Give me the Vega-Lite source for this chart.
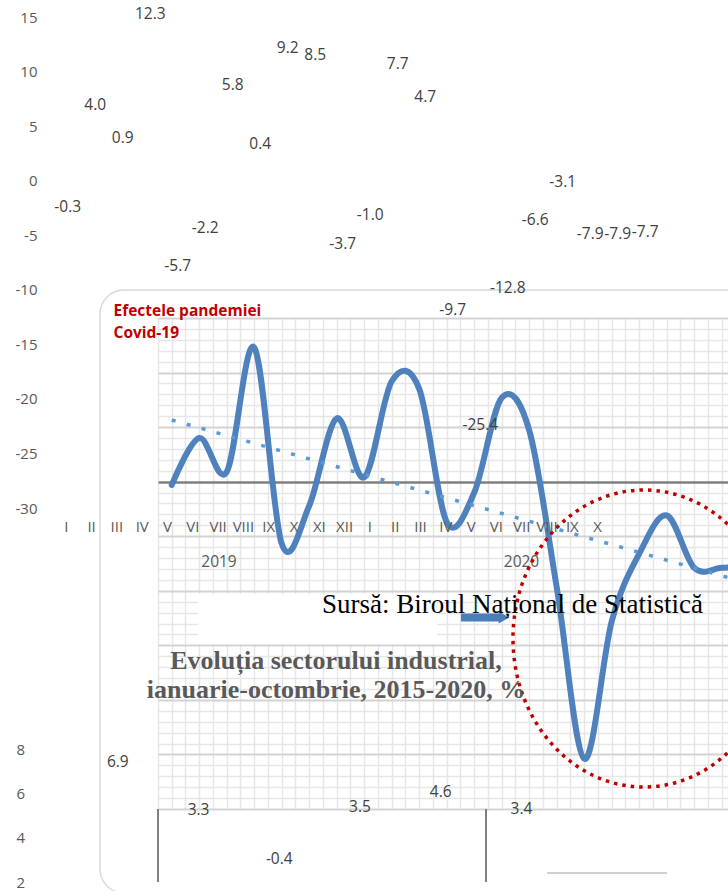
{
  "$schema": "https://vega.github.io/schema/vega-lite/v6.json",
  "width": 570,
  "height": 491,
  "autosize": {"type": "none"},
  "padding": {"left": 158, "top": 318, "right": 0, "bottom": 82},
  "background": "white",
  "config": {
    "view": {"stroke": null},
    "locale": {"number": {"decimal": ".", "thousands": ",", "grouping": [3], "currency": ["$", ""], "minus": "-"}}
  },
  "datasets": {
    "ipi": [
      {"i": 0, "year": "2019", "month": "I", "value": -0.3, "side": "below"},
      {"i": 1, "year": "2019", "month": "II", "value": 4.0, "side": "above"},
      {"i": 2, "year": "2019", "month": "III", "value": 0.9, "side": "above"},
      {"i": 3, "year": "2019", "month": "IV", "value": 12.3, "side": "above"},
      {"i": 4, "year": "2019", "month": "V", "value": -5.7, "side": "below"},
      {"i": 5, "year": "2019", "month": "VI", "value": -2.2, "side": "below"},
      {"i": 6, "year": "2019", "month": "VII", "value": 5.8, "side": "above"},
      {"i": 7, "year": "2019", "month": "VIII", "value": 0.4, "side": "above"},
      {"i": 8, "year": "2019", "month": "IX", "value": 9.2, "side": "above"},
      {"i": 9, "year": "2019", "month": "X", "value": 8.5, "side": "above"},
      {"i": 10, "year": "2019", "month": "XI", "value": -3.7, "side": "below"},
      {"i": 11, "year": "2019", "month": "XII", "value": -1.0, "side": "below"},
      {"i": 12, "year": "2020", "month": "I", "value": 7.7, "side": "above"},
      {"i": 13, "year": "2020", "month": "II", "value": 4.7, "side": "above"},
      {"i": 14, "year": "2020", "month": "III", "value": -9.7, "side": "below"},
      {"i": 15, "year": "2020", "month": "IV", "value": -25.4, "side": "above"},
      {"i": 16, "year": "2020", "month": "V", "value": -12.8, "side": "above"},
      {"i": 17, "year": "2020", "month": "VI", "value": -6.6, "side": "above"},
      {"i": 18, "year": "2020", "month": "VII", "value": -3.1, "side": "above"},
      {"i": 19, "year": "2020", "month": "VIII", "value": -7.9, "side": "above"},
      {"i": 20, "year": "2020", "month": "IX", "value": -7.9, "side": "above"},
      {"i": 21, "year": "2020", "month": "X", "value": -7.7, "side": "above"}
    ],
    "annual": [
      {"year": 2015, "value": 6.9},
      {"year": 2016, "value": 3.3},
      {"year": 2017, "value": -0.4},
      {"year": 2018, "value": 3.5},
      {"year": 2019, "value": 4.6},
      {"year": 2020, "value": 3.4}
    ]
  },
  "layer": [
    {
      "data": {"name": "ipi"},
      "layer": [
        {
          "data": {"values": [{}]},
          "mark": {"type": "rect", "fill": null, "fillOpacity": 0, "stroke": "#d9d9d9", "strokeWidth": 1.5, "cornerRadius": 24},
          "encoding": {
            "x": {"datum": -2.609, "type": "quantitative"},
            "x2": {"datum": 22.845},
            "y": {"datum": 17.566, "type": "quantitative"},
            "y2": {"datum": -37.7}
          }
        },
        {
          "data": {"values": [{}]},
          "mark": {"type": "rect", "fill": "white", "stroke": null},
          "encoding": {
            "x": {"datum": 0.9545, "type": "quantitative"},
            "x2": {"datum": 9.645},
            "y": {"datum": -10.295, "type": "quantitative"},
            "y2": {"datum": -14.878}
          }
        },
        {
          "mark": {"type": "line", "interpolate": "cardinal", "color": "#4F81BD", "strokeWidth": 6, "strokeCap": "round", "strokeJoin": "round"},
          "encoding": {
            "x": {
              "field": "i", "type": "quantitative",
              "scale": {"domain": [-0.5, 20.2273], "nice": false, "zero": false},
              "axis": {
                "orient": "bottom", "title": null, "labels": false, "ticks": false, "domain": false,
                "grid": true, "gridColor": "#e6e6e6", "gridWidth": 1.5, "tickCount": 200,
                "values": [-0.5, 0, 0.5, 1, 1.5, 2, 2.5, 3, 3.5, 4, 4.5, 5, 5.5, 6, 6.5, 7, 7.5, 8, 8.5, 9, 9.5, 10, 10.5, 11, 11.5, 12, 12.5, 13, 13.5, 14, 14.5, 15, 15.5, 16, 16.5, 17, 17.5, 18, 18.5, 19, 19.5, 20]
              }
            },
            "y": {
              "field": "value", "type": "quantitative",
              "scale": {"domain": [-30, 15], "nice": false, "zero": false},
              "axis": {
                "orient": "left", "title": null, "domain": false, "ticks": false, "tickSize": 0,
                "labelPadding": 0, "offset": 121, "labelOffset": -301, "tickCount": 100, "format": "d",
                "labelOverlap": false, "labelFlush": false,
                "labelFont": "Open Sans", "labelFontSize": 15, "labelColor": "#595959",
                "values": [-30, -25, -20, -15, -10, -5, 0, 5, 10, 15],
                "grid": true,
                "gridColor": {"condition": {"test": "datum.value === 0", "value": "#7f7f7f"}, "value": "#d3d3d3"},
                "gridWidth": {"condition": {"test": "datum.value === 0", "value": 2.5}, "value": 2}
              }
            }
          }
        },
        {
          "transform": [{"regression": "value", "on": "i"}],
          "mark": {"type": "line", "color": "#5B9BD5", "strokeWidth": 3.5, "strokeDash": [4, 11.5], "strokeCap": "butt"},
          "encoding": {
            "x": {"field": "i", "type": "quantitative"},
            "y": {"field": "value", "type": "quantitative"}
          }
        },
        {
          "transform": [{"filter": "datum.side === 'above'"}],
          "mark": {"type": "text", "font": "Open Sans", "fontSize": 15.5, "color": "#404040", "baseline": "middle", "align": "center", "dx": -104, "dy": -333.5},
          "encoding": {
            "x": {"field": "i", "type": "quantitative"},
            "y": {"field": "value", "type": "quantitative"},
            "text": {"field": "value", "type": "quantitative", "format": ".1f"}
          }
        },
        {
          "transform": [{"filter": "datum.side === 'below'"}],
          "mark": {"type": "text", "font": "Open Sans", "fontSize": 15.5, "color": "#404040", "baseline": "middle", "align": "center", "dx": -104, "dy": -277.8},
          "encoding": {
            "x": {"field": "i", "type": "quantitative"},
            "y": {"field": "value", "type": "quantitative"},
            "text": {"field": "value", "type": "quantitative", "format": ".1f"}
          }
        },
        {
          "transform": [{"aggregate": [{"op": "mean", "field": "i", "as": "mi"}], "groupby": ["year"]}],
          "mark": {"type": "text", "font": "Open Sans", "fontSize": 15.5, "color": "#595959", "baseline": "middle", "align": "center", "dx": -104, "dy": -247.5},
          "encoding": {
            "x": {"field": "mi", "type": "quantitative"},
            "y": {"datum": -30, "type": "quantitative"},
            "text": {"field": "year", "type": "nominal"}
          }
        },
        {
          "data": {"values": [{}]},
          "mark": {
            "type": "point", "filled": false, "fill": null, "stroke": "#C00000", "strokeWidth": 3.5, "strokeDash": [3.5, 5], "opacity": 1, "size": 88209,
            "shape": "M 0.8822 0 C 0.8822 0.5523 0.4872 1 0 1 C -0.4872 1 -0.8822 0.5523 -0.8822 0 C -0.8822 -0.5523 -0.4872 -1 0 -1 C 0.4872 -1 0.8822 -0.5523 0.8822 0 Z"
          },
          "encoding": {
            "x": {"datum": 17.173, "type": "quantitative"},
            "y": {"datum": -14.374, "type": "quantitative"}
          }
        },
        {
          "data": {"values": [{}]},
          "mark": {"type": "rule", "color": "#4a7ebb", "strokeWidth": 8},
          "encoding": {
            "x": {"datum": 10.518, "type": "quantitative"},
            "x2": {"datum": 11.9},
            "y": {"datum": -12.449, "type": "quantitative"}
          }
        },
        {
          "data": {"values": [{}]},
          "mark": {"type": "point", "shape": "triangle-right", "filled": true, "color": "#4a7ebb", "size": 150, "opacity": 1},
          "encoding": {
            "x": {"datum": 12.082, "type": "quantitative"},
            "y": {"datum": -12.449, "type": "quantitative"}
          }
        },
        {
          "data": {"values": [{}]},
          "mark": {"type": "text", "text": "Efectele pandemiei", "font": "Open Sans", "fontWeight": "bold", "fontSize": 15.5, "color": "#C00000", "align": "left", "baseline": "middle"},
          "encoding": {
            "x": {"datum": -2.118, "type": "quantitative"},
            "y": {"datum": 15.642, "type": "quantitative"}
          }
        },
        {
          "data": {"values": [{}]},
          "mark": {"type": "text", "text": "Covid-19", "font": "Open Sans", "fontWeight": "bold", "fontSize": 15.5, "color": "#C00000", "align": "left", "baseline": "middle"},
          "encoding": {
            "x": {"datum": -2.118, "type": "quantitative"},
            "y": {"datum": 13.625, "type": "quantitative"}
          }
        },
        {
          "data": {"values": [{}]},
          "mark": {"type": "text", "text": "Sursă: Biroul Național de Statistică", "font": "Liberation Serif", "fontSize": 27, "color": "#000000", "align": "center", "baseline": "middle"},
          "encoding": {
            "x": {"datum": 12.391, "type": "quantitative"},
            "y": {"datum": -11.303, "type": "quantitative"}
          }
        },
        {
          "data": {"values": [{}]},
          "mark": {"type": "text", "text": "Evoluția sectorului industrial,", "font": "Liberation Serif", "fontWeight": "bold", "fontSize": 26, "color": "#595959", "align": "center", "baseline": "middle"},
          "encoding": {
            "x": {"datum": 5.973, "type": "quantitative"},
            "y": {"datum": -16.435, "type": "quantitative"}
          }
        },
        {
          "data": {"values": [{}]},
          "mark": {"type": "text", "text": "ianuarie-octombrie, 2015-2020, %", "font": "Liberation Serif", "fontWeight": "bold", "fontSize": 26, "color": "#595959", "align": "center", "baseline": "middle"},
          "encoding": {
            "x": {"datum": 5.973, "type": "quantitative"},
            "y": {"datum": -19.09, "type": "quantitative"}
          }
        },
        {
          "data": {"values": [{}]},
          "mark": {"type": "rule", "color": "#7f7f7f", "strokeWidth": 2},
          "encoding": {
            "x": {"datum": -0.5, "type": "quantitative"},
            "y": {"datum": -30, "type": "quantitative"},
            "y2": {"datum": -36.69}
          }
        },
        {
          "data": {"values": [{}]},
          "mark": {"type": "rule", "color": "#7f7f7f", "strokeWidth": 2},
          "encoding": {
            "x": {"datum": 11.427, "type": "quantitative"},
            "y": {"datum": -30, "type": "quantitative"},
            "y2": {"datum": -36.69}
          }
        },
        {
          "data": {"values": [{}]},
          "mark": {"type": "rule", "color": "#d0d0d0", "strokeWidth": 2},
          "encoding": {
            "x": {"datum": 13.645, "type": "quantitative"},
            "x2": {"datum": 18.009},
            "y": {"datum": -35.865, "type": "quantitative"}
          }
        }
      ]
    },
    {
      "data": {"name": "ipi"},
      "mark": {"type": "text", "font": "Open Sans", "fontSize": 15, "color": "#595959", "baseline": "middle", "align": "center", "dy": -282.5},
      "encoding": {
        "x": {"field": "i", "type": "quantitative", "scale": {"domain": [3.6245, 26.1542], "nice": false, "zero": false}, "axis": null},
        "y": {
          "datum": -30, "type": "quantitative",
          "scale": {"domain": [-30, 15], "nice": false, "zero": false},
          "axis": {
            "orient": "left", "title": null, "labels": false, "ticks": false, "domain": false,
            "grid": true, "gridColor": "#e6e6e6", "gridWidth": 1.5, "tickCount": 200,
            "values": [-29, -28, -27, -26, -24, -23, -22, -21, -19, -18, -17, -16, -14, -13, -12, -11, -9, -8, -7, -6, -4, -3, -2, -1, 1, 2, 3, 4, 6, 7, 8, 9, 11, 12, 13, 14]
          }
        },
        "text": {"field": "month", "type": "nominal"}
      }
    },
    {
      "data": {"name": "annual"},
      "mark": {"type": "text", "font": "Open Sans", "fontSize": 15.5, "color": "#404040", "baseline": "middle", "align": "center"},
      "encoding": {
        "x": {"field": "year", "type": "quantitative", "scale": {"domain": [2015.498, 2022.558], "nice": false, "zero": false}, "axis": null},
        "y": {"field": "value", "type": "quantitative", "scale": {"domain": [3.363, 40.03], "nice": false, "zero": false}, "axis": null},
        "text": {"field": "value", "type": "quantitative", "format": ".1f"}
      }
    },
    {
      "data": {"name": "annual"},
      "mark": {"type": "point", "opacity": 0},
      "encoding": {
        "y": {
          "field": "value", "type": "quantitative",
          "scale": {"domain": [0, 22.167], "nice": false, "zero": false},
          "axis": {
            "orient": "left", "values": [8, 6, 4, 2], "title": null, "domain": false, "ticks": false, "tickSize": 0, "tickCount": 100, "format": "d",
            "labelPadding": 0, "grid": false, "offset": 133.5, "labelOffset": 117.5, "labelOverlap": false, "labelFlush": false,
            "labelFont": "Open Sans", "labelFontSize": 15, "labelColor": "#595959"
          }
        }
      }
    }
  ],
  "resolve": {"scale": {"x": "independent", "y": "independent"}}
}
